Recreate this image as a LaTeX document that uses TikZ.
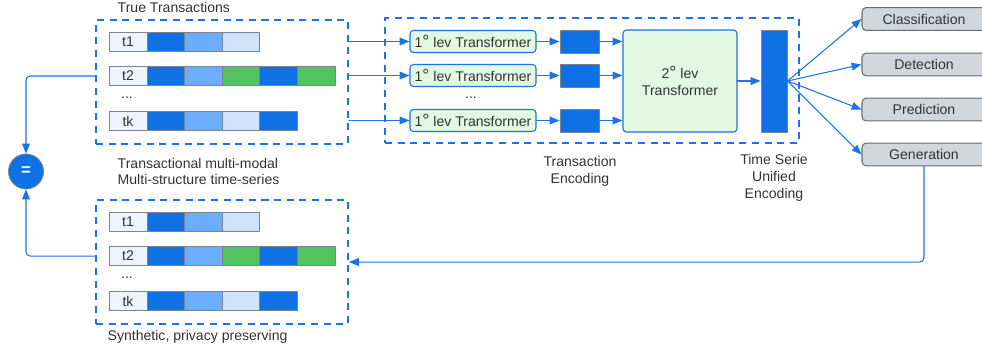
\documentclass[tikz,border=0pt]{standalone}
\usepackage{fontspec}
\setmainfont{Liberation Sans}
\usetikzlibrary{arrows.meta,positioning}
\definecolor{dashblue}{HTML}{1A73E8}
\definecolor{cdark}{HTML}{1071E5}
\definecolor{cmid}{HTML}{6BAEFF}
\definecolor{clight}{HTML}{CFE3FD}
\definecolor{cgreen}{HTML}{53C35F}
\definecolor{clabel}{HTML}{EDF4FD}
\definecolor{cellgray}{HTML}{7B8492}
\definecolor{lgreen}{HTML}{E3F8E3}
\definecolor{taskfill}{HTML}{D1D5DC}
\definecolor{taskborder}{HTML}{656C78}
\definecolor{txtgray}{HTML}{333333}
\newcommand{\levdeg}{{\fontsize{12.5}{12}\selectfont\raisebox{-0.3pt}{°}}}
\begin{document}
\begin{tikzpicture}[x=0.025cm,y=-0.025cm,line cap=round,line join=round,
  every node/.style={inner sep=1pt,text=txtgray,font=\fontsize{10}{12}\selectfont},
  cell/.style={draw=cellgray,line width=0.7pt,minimum width=0.94cm,minimum height=0.475cm,inner sep=0pt},
  group/.style={draw=dashblue,line width=1.3pt,dash pattern=on 5pt off 4pt,line cap=butt,inner sep=0pt},
  flow/.style={draw=dashblue,line width=0.75pt,-{Triangle[length=7pt,width=5.5pt]}},
  levbox/.style={draw=dashblue,fill=lgreen,rounded corners=2.5pt,line width=0.75pt,minimum width=3.15cm,minimum height=0.55cm,inner sep=0pt},
  codebox/.style={draw=cellgray,fill=cdark,line width=0.7pt,minimum width=0.975cm,minimum height=0.575cm},
  taskbox/.style={draw=taskborder,fill=taskfill,rounded corners=3pt,line width=0.75pt,minimum width=3.1cm,minimum height=0.57cm,inner sep=0pt}]
  \clip (0,0) rectangle (982,351);
  \foreach \grp/\dy in {a/0cm,b/-4.5cm} {
    \begin{scope}[yshift=\dy]
      \node[group,minimum width=6.3cm,minimum height=3.1cm] (\grp box) at (222,82) {};
      \node[cell,fill=clabel,minimum width=0.95cm] (\grp1-0) at (128,41.5) {t1};
      \foreach \c [count=\i] in {cdark,cmid,clight}
        \node[cell,fill=\c] (\grp1-\i) at (128.3+37.6*\i,41.5) {};
      \node[cell,fill=clabel,minimum width=0.95cm] (\grp2-0) at (128,76) {t2};
      \foreach \c [count=\i] in {cdark,cmid,cgreen,cdark,cgreen}
        \node[cell,fill=\c] (\grp2-\i) at (128.3+37.6*\i,76) {};
      \node (\grp dots) at (127,98) {...};
      \node[cell,fill=clabel,minimum width=0.95cm] (\grp3-0) at (128,121) {tk};
      \foreach \c [count=\i] in {cdark,cmid,clight,cdark}
        \node[cell,fill=\c] (\grp3-\i) at (128.3+37.6*\i,121) {};
    \end{scope}
  }
  \node[anchor=west] (truelbl) at (116,7) {True Transactions};
  \node[anchor=west,align=left] (multilbl) at (116,171.5) {Transactional multi-modal\\Multi-structure time-series};
  \node[anchor=west] (synthlbl) at (106,337) {Synthetic, privacy preserving};
  \node[circle,draw=cellgray,fill=cdark,line width=0.6pt,minimum size=0.875cm,text=white,font=\bfseries\fontsize{12}{12}\selectfont] (eq) at (26,171.5) {=};
  \draw[flow,rounded corners=3pt] (abox.west |- a2-0) -| (eq.north);
  \draw[flow,rounded corners=3pt] (bbox.west |- b2-0) -| (eq.south);
  \node[group,minimum width=10.35cm,minimum height=3.125cm] (encbox) at (592,80.5) {};
  \foreach \y [count=\i] in {41.5,75.5,120.5} {
    \node[levbox] (lev\i) at (473,\y) {1\levdeg{} lev Transformer};
    \node[codebox] (code\i) at (579.5,\y) {};
  }
  \node (levdots) at (471,98) {...};
  \node[levbox,minimum width=2.85cm,minimum height=2.55cm,align=center] (lev2nd) at (680,81) {2\levdeg{} lev\\Transformer};
  \node[codebox,minimum width=0.65cm,minimum height=2.55cm] (unified) at (774,81) {};
  \node[align=center] (enclbl) at (580,171.5) {Transaction\\Encoding};
  \node[align=center] (unilbl) at (774,178) {Time Serie\\Unified\\Encoding};
  \foreach \t/\y [count=\i] in {Classification/19,Detection/64.5,Prediction/109.5,Generation/154.5}
    \node[taskbox] (task\i) at (924,\y) {\t};
  \foreach \i in {1,2,3} {
    \draw[flow] (abox.east |- lev\i.west) -- (lev\i.west);
    \draw[flow] (lev\i) -- (code\i);
    \draw[flow] (code\i.east) -- (code\i -| lev2nd.west);
  }
  \draw[flow] (lev2nd) -- (unified);
  \foreach \i in {1,...,4}
    \draw[flow] (unified.east) -- (task\i.west);
  \draw[flow,rounded corners=3pt] (task4.south) |- (bbox.east);
\end{tikzpicture}
\end{document}
